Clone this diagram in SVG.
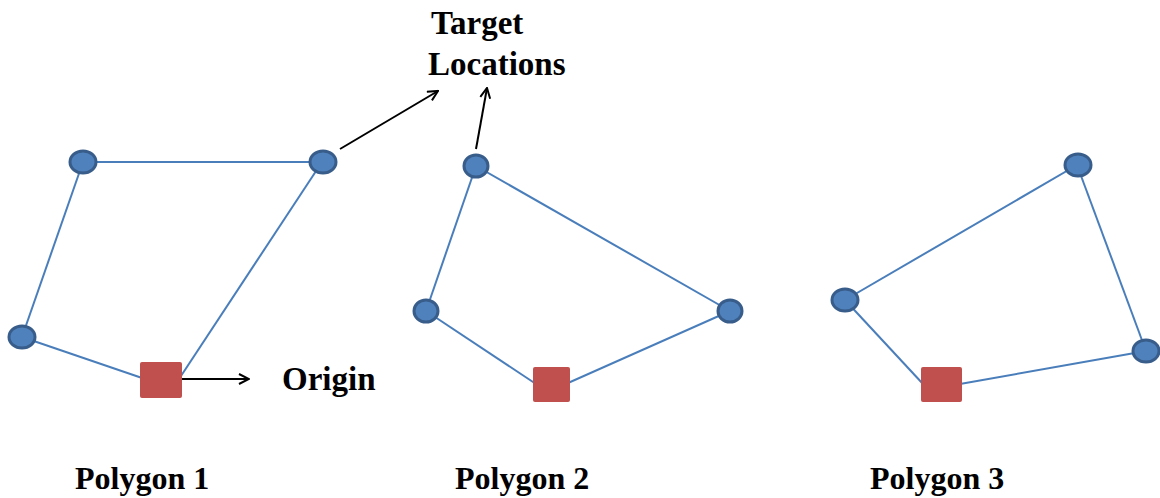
<svg xmlns="http://www.w3.org/2000/svg" width="1160" height="498" viewBox="0 0 1160 498">
<style>
.edge{stroke:#4A7EBB;stroke-width:2;fill:none}
.ptr{stroke:#000;stroke-width:2;fill:none}
.node{fill:#4F81BD;stroke:#385D8A;stroke-width:3}
.origin{fill:#C0504D}
.lbl{font-family:"Liberation Serif","Times New Roman",serif;font-weight:bold;font-size:32px;fill:#000}
.big{font-size:33px}
</style>
<defs>
<marker id="open" viewBox="0 0 12 12" refX="11" refY="6" markerWidth="12" markerHeight="12" markerUnits="userSpaceOnUse" orient="auto">
<path d="M1,1 L11,6 L1,11" fill="none" stroke="#000" stroke-width="2"/>
</marker>
</defs>
<rect width="1160" height="498" fill="#fff"/>
<g id="connectors">
<line class="edge" x1="83" y1="162" x2="322" y2="162"/>
<line class="edge" x1="83" y1="162" x2="22" y2="337"/>
<line class="edge" x1="22" y1="337" x2="145" y2="379"/>
<line class="edge" x1="322" y1="162" x2="179" y2="379"/>
<line class="edge" x1="476" y1="166" x2="426" y2="311"/>
<line class="edge" x1="476" y1="166" x2="730" y2="311"/>
<line class="edge" x1="426" y1="311" x2="536" y2="384"/>
<line class="edge" x1="730" y1="311" x2="568" y2="383"/>
<line class="edge" x1="1077" y1="165" x2="845" y2="300"/>
<line class="edge" x1="1077" y1="165" x2="1146" y2="351"/>
<line class="edge" x1="845" y1="300" x2="923" y2="384"/>
<line class="edge" x1="1146" y1="351" x2="960" y2="384"/>
<line class="ptr" x1="340" y1="149" x2="438" y2="91" marker-end="url(#open)"/>
<line class="ptr" x1="476" y1="149" x2="487" y2="88" marker-end="url(#open)"/>
<line class="ptr" x1="173" y1="379" x2="249" y2="379" marker-end="url(#open)"/>
</g>
<g id="p1-n1"><ellipse class="node" cx="83" cy="162" rx="13" ry="11"/></g>
<g id="p1-n2"><ellipse class="node" cx="323" cy="162" rx="13" ry="11"/></g>
<g id="p1-n3"><ellipse class="node" cx="22" cy="337" rx="13" ry="11"/></g>
<g id="p1-origin"><rect class="origin" x="140" y="362" width="42" height="36" rx="2"/></g>
<g id="p2-n1"><ellipse class="node" cx="476" cy="166" rx="12" ry="11"/></g>
<g id="p2-n2"><ellipse class="node" cx="426" cy="311" rx="12" ry="11"/></g>
<g id="p2-n3"><ellipse class="node" cx="730" cy="311" rx="12" ry="11"/></g>
<g id="p2-origin"><rect class="origin" x="533" y="367" width="37" height="35" rx="2"/></g>
<g id="p3-n1"><ellipse class="node" cx="1078" cy="165" rx="13" ry="11"/></g>
<g id="p3-n2"><ellipse class="node" cx="845" cy="300" rx="13" ry="11"/></g>
<g id="p3-n3"><ellipse class="node" cx="1146" cy="351" rx="13" ry="11"/></g>
<g id="p3-origin"><rect class="origin" x="921" y="367" width="41" height="35" rx="2"/></g>
<g id="target-label">
<text class="lbl big" x="431" y="34">Target</text>
<text class="lbl big" x="428" y="75">Locations</text>
</g>
<g id="origin-label"><text class="lbl big" x="282" y="390">Origin</text></g>
<g id="titles">
<text class="lbl" x="75" y="489">Polygon 1</text>
<text class="lbl" x="455" y="489">Polygon 2</text>
<text class="lbl" x="870" y="489">Polygon 3</text>
</g>
</svg>
